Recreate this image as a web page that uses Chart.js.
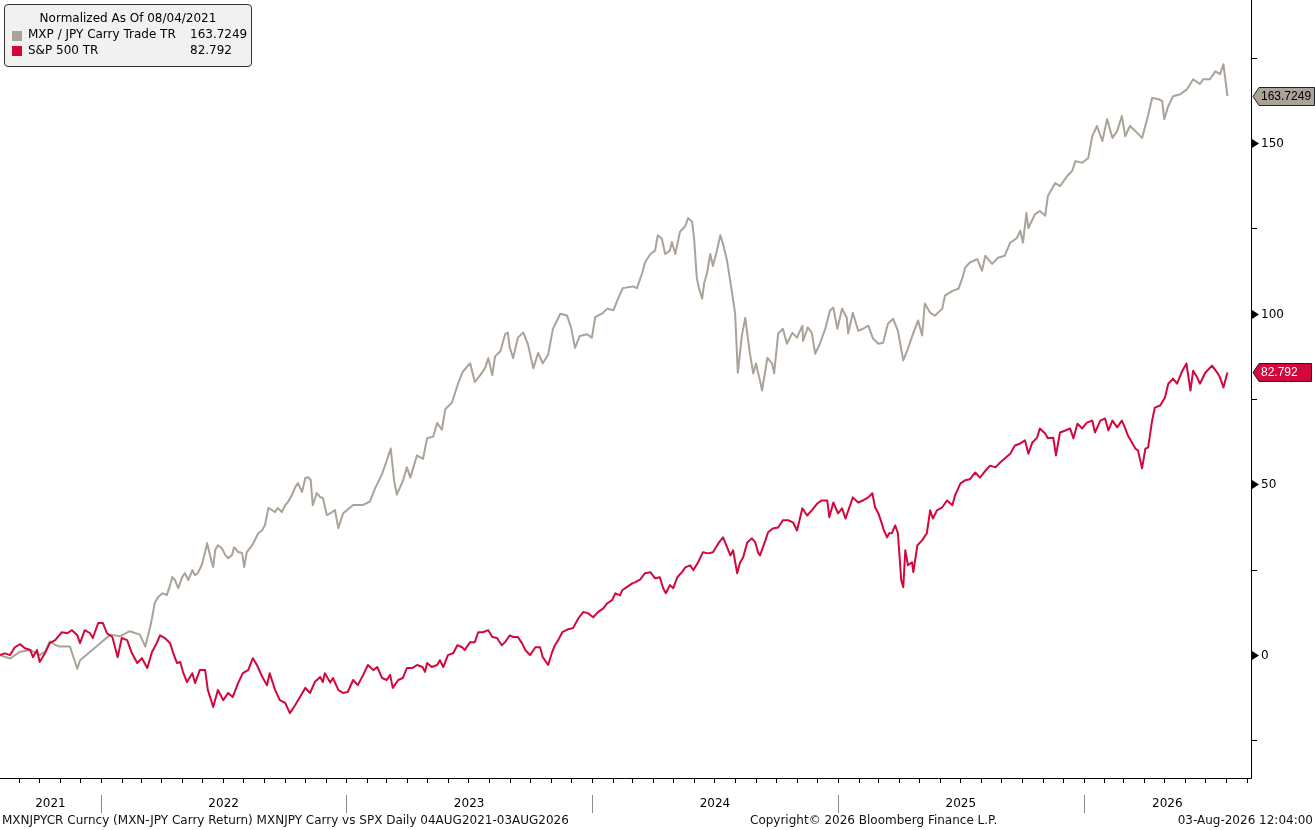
<!DOCTYPE html>
<html><head><meta charset="utf-8">
<script src="https://cdn.jsdelivr.net/npm/chart.js@4.4.0/dist/chart.umd.min.js"></script>
<style>
html,body{margin:0;padding:0;background:#fff;overflow:hidden;}
#wrap{position:relative;width:1315px;height:830px;font-family:"DejaVu Sans",sans-serif;color:#000;}
#c{position:absolute;left:0;top:0;}
#legend{position:absolute;left:4px;top:4px;width:248px;height:63px;background:#f1f1f1;border:1px solid #333;border-radius:4px;font-size:12px;box-sizing:border-box;}
#legend .t{position:absolute;left:0;width:246px;top:6px;text-align:center;}
#legend .r{position:absolute;left:23px;white-space:nowrap;}
#legend .v{position:absolute;left:185px;white-space:nowrap;}
#legend .sw{position:absolute;left:7px;width:10px;height:10px;}
.foot{position:absolute;top:813px;font-size:12px;white-space:nowrap;color:#111;}
</style></head>
<body><div id="wrap">
<canvas id="c" width="1315" height="830"></canvas>
<div id="legend">
  <div class="t">Normalized As Of 08/04/2021</div>
  <div class="sw" style="top:26px;background:#aba298"></div>
  <div class="r" style="top:22px">MXP / JPY Carry Trade TR</div>
  <div class="v" style="top:22px">163.7249</div>
  <div class="sw" style="top:41px;background:#d2083c"></div>
  <div class="r" style="top:38px">S&amp;P 500 TR</div>
  <div class="v" style="top:38px">82.792</div>
</div>
<div class="foot" style="left:2px">MXNJPYCR Curncy (MXN-JPY Carry Return) MXNJPY Carry vs SPX Daily 04AUG2021-03AUG2026</div>
<div class="foot" style="left:750px">Copyright© 2026 Bloomberg Finance L.P.</div>
<div class="foot" style="right:2px">03-Aug-2026 12:04:00</div>
</div>
<script>
// days since 2021-08-04
const carryDays=[0,7,15,30,45,59,67,74,82,89,104,115,119,134,149,164,178,193,208,216,223,226,230,235,242,248,253,256,260,265,271,275,280,286,290,294,300,305,308,314,317,320,324,330,335,339,345,348,354,360,363,367,375,379,384,390,394,399,404,409,413,419,424,428,434,439,443,449,454,458,462,465,471,476,480,486,494,498,503,510,525,540,550,558,568,575,581,586,590,599,605,610,620,629,635,644,650,657,662,672,681,688,699,706,714,721,726,732,736,744,751,755,758,763,770,778,785,793,800,807,815,822,833,843,849,855,862,873,880,885,895,903,912,919,926,941,947,955,959,967,974,978,984,989,996,999,1004,1011,1019,1023,1029,1032,1036,1039,1044,1047,1051,1056,1060,1066,1071,1075,1081,1088,1093,1097,1103,1108,1115,1120,1124,1130,1133,1141,1148,1151,1157,1164,1170,1178,1185,1193,1194,1201,1207,1212,1219,1227,1234,1239,1245,1252,1259,1261,1268,1276,1283,1291,1298,1306,1313,1320,1328,1335,1343,1350,1358,1365,1371,1375,1383,1390,1401,1405,1416,1425,1431,1435,1442,1453,1460,1465,1475,1484,1494,1502,1512,1517,1521,1526,1529,1539,1546,1554,1558,1569,1576,1587,1594,1599,1609,1618,1624,1631,1639,1646,1654,1661,1668,1673,1680,1688,1698,1706,1713,1722,1728,1731,1737,1744,1755,1765,1774,1784,1789,1799,1807,1814,1819,1825];
const carryVals=[0,-0.5,-1,1,1.5,0,1,4,3,2.5,2.5,-4,-1.5,1,3.5,6,5.5,7,6,2.5,8,10.8,15.2,17,18.1,17.6,20.5,22.9,22,19.6,22.9,24,22,24.9,23.4,24,26.4,30.2,32.8,27.8,25.8,30.8,32.2,31.3,29.3,28.4,29.3,31.6,30.2,29.9,25.8,30.2,32.2,33.7,35.7,36.6,38.1,43.1,42.5,41.9,43.1,41.9,43.9,44.8,46.9,49.2,50.4,47.8,51.9,52.1,51.3,43.9,47.5,46.3,46,41,41.9,42.5,37.2,41.5,44,44,45,49,53,57,60.5,51,47,51,55,52,58.5,57.5,63.5,64,68,66,72,74,79.5,83,85.5,80,82,84,87,82,87.5,89,94,94.5,90,87,93,94.5,91,84,88.5,85.5,88,95.5,100,99.5,96,90,93.5,94,93,99,100,101.5,101,104.5,107.5,108,107.5,112,115,117.5,118.5,123,122,117.5,118.5,121,117.5,124,125.7,128,127,122,110.5,107.6,104.4,109,111.7,117.5,114,118.5,123,120.5,115.5,106.7,100,82.7,93.6,98.8,88.3,82.5,85.4,80.4,77.5,87.1,85.4,82.5,94.2,95.6,91.2,94.4,93,96.5,92,96,94.4,88.3,91.2,95.6,100.9,101.8,95.6,101.5,98.8,94.2,100.3,95,95.6,96.5,92.7,91.2,91.5,97,98.5,95,86.3,89.8,94.4,98,93.6,103,100.3,99.4,101.5,105.3,106.7,107.3,110.5,113.5,115,116,112.6,117,114.6,116.4,117,120.8,122.2,124.3,120.8,129.5,125.1,129.2,130.1,128.7,134.5,138.3,137.4,140.4,141.8,144.7,144.2,145.6,152,155,150.6,157,151.5,153.5,157.9,152,155,153.5,151.5,157.3,163.2,162.9,162.3,157,160.8,163.7,164.3,165.8,168.7,167.3,168.7,168.7,171,170.2,173.1,163.7249];
const spxDays=[0,7,15,22,30,37,45,49,55,59,67,74,82,92,100,107,115,119,126,134,138,146,153,159,167,175,181,189,196,204,211,219,226,233,238,245,253,257,263,268,272,278,286,290,297,305,309,317,324,332,339,346,354,361,369,376,382,390,397,401,409,416,424,431,439,446,454,461,468,476,480,483,491,495,503,510,517,525,532,540,547,555,561,568,575,580,584,592,599,605,613,620,628,632,635,642,650,654,659,666,674,680,687,691,699,706,711,718,726,732,739,746,751,758,763,770,776,781,788,796,803,807,815,821,825,830,836,845,852,860,867,874,882,889,897,903,910,915,922,925,932,940,944,952,959,967,974,981,986,990,996,1001,1007,1014,1019,1026,1031,1038,1045,1053,1060,1068,1075,1081,1086,1090,1096,1100,1105,1111,1118,1123,1127,1130,1138,1142,1149,1157,1164,1172,1179,1185,1193,1200,1207,1215,1222,1230,1233,1239,1246,1252,1257,1264,1268,1276,1283,1291,1297,1301,1306,1312,1313,1319,1322,1326,1331,1335,1340,1343,1346,1350,1356,1358,1364,1371,1378,1383,1387,1393,1401,1408,1416,1420,1428,1435,1442,1450,1457,1465,1472,1480,1487,1494,1502,1509,1517,1524,1529,1535,1542,1546,1554,1558,1566,1570,1576,1584,1591,1596,1602,1609,1616,1624,1628,1636,1643,1648,1654,1661,1668,1673,1677,1683,1688,1692,1698,1703,1707,1713,1717,1725,1732,1737,1744,1750,1758,1764,1770,1774,1780,1784,1792,1802,1810,1814,1819,1825];
const spxVals=[0,0.5,0,2.3,3.2,2,1.5,-0.6,1.5,-2,0.6,3.5,4.4,6.7,6.4,7.3,5.8,3.5,7.3,6.4,5,9.4,9.4,6.4,5.3,-0.6,5,4.4,0.6,-2.3,-0.9,-3.8,0.9,3.5,5.8,5,3.5,0.9,-2.3,-2,-4.9,-7.9,-5.3,-8.2,-4.4,-4.4,-10.2,-15.2,-10.2,-13.2,-11.1,-12.3,-8.2,-5.3,-4.4,-0.9,-2.9,-6.4,-8.8,-5.3,-10.2,-13.2,-14,-17,-14.6,-12.3,-9.6,-11.1,-7.9,-6.4,-7.9,-5.3,-8,-6.7,-10.2,-11.1,-10.8,-7.3,-8.8,-5.8,-2.9,-4.4,-3.5,-6.7,-7.3,-5.8,-9.6,-7.3,-6.7,-3.8,-3.8,-2.9,-3.5,-4.9,-2.3,-3.5,-2.9,-1.5,-3.5,0,0.6,2.9,2.3,1.5,3.8,3.8,6.7,6.7,7.3,5.3,5,2.9,3.8,5.8,5.3,5.3,3.5,1.5,0,2.3,2.3,-0.6,-2.9,0.9,2.9,4.4,6.7,7.6,7.9,10.8,12.6,12.3,11.1,12.6,13.7,15.2,16.1,18.1,17.5,19,19.9,21,21.3,22.2,24,24.3,22.5,22.8,19.6,18.1,20.5,19.6,22.8,24.3,25.7,26.3,24.9,27.2,30.1,29.8,30.1,32.7,34.5,31.6,29.2,30.7,24,26.9,28.7,33,34.2,33,30.1,29.2,33.6,36,37.1,37.4,39.5,39.5,38.9,36.5,43,40.9,42.4,44.4,45.3,45.3,40.4,44.7,41.5,43,40,43.9,46.2,44.7,45.3,46.2,47.4,43.3,41.5,38,37.1,34.5,35.7,35.7,38,35.7,21.9,19.9,30.7,26.3,27.2,24.3,32.2,33.6,35.7,42.4,40,42.4,43.3,45.3,43.9,46.8,50.3,51.2,51.5,53.5,52,54,55.5,55,56.4,57.6,59,61.4,62,62.9,59,62.3,63.7,66.4,64.9,63.5,63.7,58.5,65.2,65.8,66.4,63.5,67.8,66.4,68.1,68.7,65.2,68.7,69.3,65.8,68.7,66.7,68.7,66.4,64.3,62.3,60.5,59.9,54.7,60.5,60.8,68.7,72.5,73.1,75.4,79.5,81,79.5,83.3,85.4,77.5,83.3,81.3,79.5,82.7,84.8,82.7,81.3,78.4,82.792];
const yTicks=[-25,0,25,50,75,100,125,150,175];
const yearLabels=['2021','2022','2023','2024','2025','2026'];
const carryLabel='163.7249', spxLabel='82.792';

const GREY='#aba298', RED='#d2083c';
const START=Date.UTC(2021,7,4);
const dayOf=(y,m,d)=>(Date.UTC(y,m,d)-START)/864e5;
const FONT='12px "DejaVu Sans", sans-serif';
const FLAGFONT='12px "Liberation Sans", Arial, sans-serif';

const deco={
  id:'deco',
  afterDraw(chart){
    const ctx=chart.ctx, a=chart.chartArea, xs=chart.scales.x, ys=chart.scales.y;
    ctx.save();
    ctx.strokeStyle='#000'; ctx.lineWidth=1;
    ctx.beginPath();
    ctx.moveTo(a.right+0.5,0); ctx.lineTo(a.right+0.5,a.bottom+0.5);
    ctx.moveTo(0,a.bottom+0.5); ctx.lineTo(a.right+0.5,a.bottom+0.5);
    ctx.stroke();
    ctx.font=FONT; ctx.fillStyle='#000'; ctx.textBaseline='middle'; ctx.textAlign='left';
    yTicks.forEach(v=>{
      const py=Math.round(ys.getPixelForValue(v));
      if(v%50===0){
        ctx.beginPath(); ctx.moveTo(a.right+1,py-4); ctx.lineTo(a.right+8,py+0.5); ctx.lineTo(a.right+1,py+5); ctx.closePath(); ctx.fill();
        ctx.fillText(String(v),a.right+10,py+1);
      } else {
        ctx.beginPath(); ctx.moveTo(a.right,py+0.5); ctx.lineTo(a.right+6,py+0.5); ctx.stroke();
      }
    });
    for(let y=2021;y<=2026;y++){
      for(let m=0;m<12;m++){
        const d=dayOf(y,m,1); if(d<0||d>xs.max) continue;
        const px=Math.round(xs.getPixelForValue(d))+0.5;
        ctx.beginPath(); ctx.moveTo(px,a.bottom); ctx.lineTo(px,a.bottom+5); ctx.stroke();
      }
    }
    ctx.textAlign='center';
    yearLabels.forEach((lab,i)=>{
      const yr=2021+i;
      const s=Math.max(xs.getPixelForValue(dayOf(yr,0,1)),a.left);
      const e=Math.min(xs.getPixelForValue(dayOf(yr+1,0,1)),a.right);
      if(i>0){
        ctx.strokeStyle='#8a8a8a';
        const px=Math.round(s)+0.5;
        ctx.beginPath(); ctx.moveTo(px,795); ctx.lineTo(px,813); ctx.stroke();
      }
      ctx.fillText(lab,(s+e)/2,804);
    });
    const flag=(val,txt,fill,tcol,right)=>{
      const py=Math.round(ys.getPixelForValue(val));
      const x0=a.right+2, x1=x0+6, x2=right, h=9;
      ctx.beginPath(); ctx.moveTo(x0,py+0.5); ctx.lineTo(x1,py-h+0.5); ctx.lineTo(x2,py-h+0.5); ctx.lineTo(x2,py+h+0.5); ctx.lineTo(x1,py+h+0.5); ctx.closePath();
      ctx.fillStyle=fill; ctx.fill(); ctx.strokeStyle='#222'; ctx.stroke();
      ctx.font=FLAGFONT; ctx.fillStyle=tcol; ctx.textAlign='left'; ctx.fillText(txt,x1+2,py+1);
    };
    flag(carryVals[carryVals.length-1],carryLabel,GREY,'#000',1314.5);
    flag(spxVals[spxVals.length-1],spxLabel,RED,'#fff',1311.5);
    ctx.restore();
  }
};

new Chart(document.getElementById('c'),{
  type:'line',
  data:{datasets:[
    {label:'S&P 500 TR',data:spxDays.map((d,i)=>({x:d,y:spxVals[i]})),borderColor:RED,borderWidth:2,pointRadius:0,tension:0,borderJoinStyle:'round'},
    {label:'MXP / JPY Carry Trade TR',data:carryDays.map((d,i)=>({x:d,y:carryVals[i]})),borderColor:GREY,borderWidth:2,pointRadius:0,tension:0,borderJoinStyle:'round'}
  ]},
  options:{
    responsive:false,animation:false,devicePixelRatio:1,
    layout:{padding:{left:0,top:0,right:64,bottom:52}},
    plugins:{legend:{display:false},tooltip:{enabled:false}},
    scales:{
      x:{type:'linear',min:0,max:1860,display:false},
      y:{type:'linear',min:-36,max:191.9,display:false}
    }
  },
  plugins:[deco]
});
</script>
</body></html>
